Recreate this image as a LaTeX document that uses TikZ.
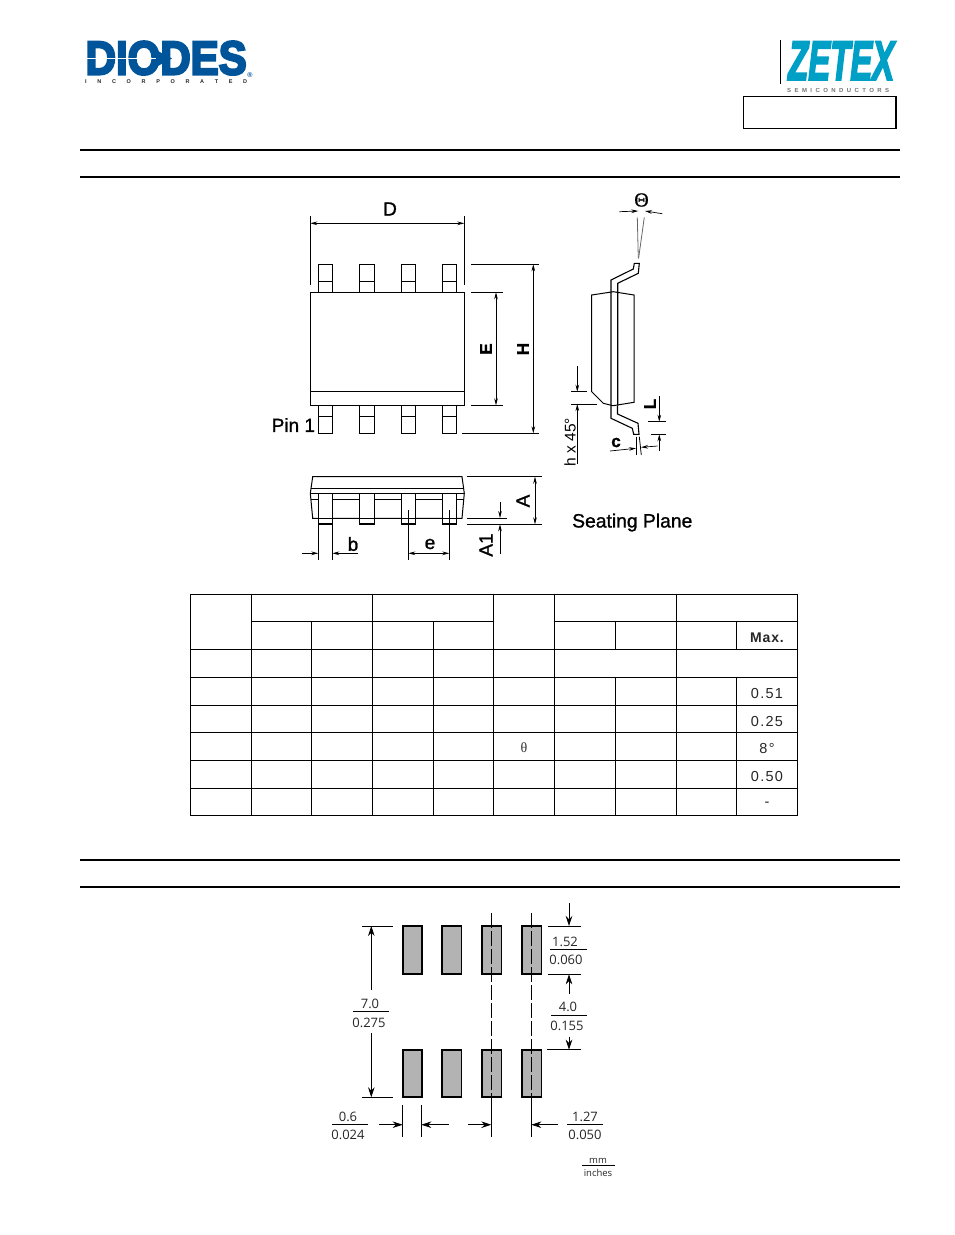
\documentclass[tikz,border=0pt]{standalone}
\usepackage{fontspec}
\setmainfont{Liberation Sans}
\newfontfamily\lblfont[FakeBold=1.2]{Liberation Sans}
\newfontfamily\heavyfont[FakeBold=1.6]{Liberation Sans Bold}
\newfontfamily\logofont[FakeBold=5]{Liberation Sans Bold}
\newfontfamily\zetfont[FakeBold=4]{Liberation Sans Bold Italic}
\newfontfamily\tabfont[LetterSpace=9]{Liberation Sans}
\newfontfamily\tabbold[LetterSpace=6]{Liberation Sans Bold}
\newfontfamily\serfont{Liberation Serif}
\newfontfamily\serbold[FakeBold=0.6]{Liberation Serif}
\newfontfamily\padfont{Open Sans}
\usetikzlibrary{arrows.meta}
\definecolor{dblue}{HTML}{00549A}
\definecolor{zcyan}{HTML}{00A0C6}
\definecolor{padgray}{HTML}{B3B3B3}
\tikzset{
  thinl/.style={line width=0.8pt,black},
  part/.style={line width=1pt,black,fill=white},
  rule/.style={line width=1.5pt,black},
  tabl/.style={line width=0.8pt,black},
  dimarrow/.style={line width=0.7pt,-{Stealth[length=7pt,width=3.6pt]}},
  dimboth/.style={line width=0.7pt,{Stealth[length=7pt,width=3.6pt]}-{Stealth[length=7pt,width=3.6pt]}},
  padarrow/.style={line width=0.8pt,-{Stealth[length=10pt,width=6.5pt]}},
  padbox/.style={line width=1.8pt,black,fill=padgray},
  cline/.style={line width=0.7pt,dash pattern=on 15pt off 3pt},
  lbl/.style={inner sep=0pt,font=\lblfont\fontsize{19}{19}\selectfont},
  tabt/.style={inner sep=0pt,font=\tabfont\fontsize{14.5}{14.5}\selectfont,text=black!85},
  padt/.style={inner sep=0pt,yshift=-1pt,font=\padfont\fontsize{13}{13}\selectfont,text=black!85},
}
\begin{document}
\begin{tikzpicture}[x=1pt,y=-1pt]
\useasboundingbox (0,0) rectangle (954,1235);
% logos
\node[anchor=south west,inner sep=0pt,text=dblue] (diodes) at (85.5,75) {\resizebox{161pt}{33pt}{\logofont DIODES}};
\draw[white,line width=1.4pt] (85,58.5) -- (158,58.5);
\fill[dblue] (156,50) -- (172,58.5) -- (156,67) -- cycle;
\node[anchor=north west,inner sep=0pt,text=black!85] (inc) at (85,79) {\makebox[162pt][s]{\fontsize{5.5}{5.5}\selectfont\bfseries I\hfill N\hfill C\hfill O\hfill R\hfill P\hfill O\hfill R\hfill A\hfill T\hfill E\hfill D}};
\node[inner sep=0pt,text=dblue] (reg) at (250,75) {\fontsize{7}{7}\selectfont\bfseries ®};
\draw[line width=0.9pt] (780.5,40) -- (780.5,84);
\node[anchor=south west,inner sep=0pt,text=zcyan] (zetex) at (788,80) {\resizebox{106pt}{38pt}{\zetfont ZETEX}};
\begin{scope}
\clip (780,88) rectangle (900,91);
\node[anchor=north west,inner sep=0pt,text=black!55] (semi) at (787,88.5) {\makebox[102pt][s]{\fontsize{6}{6}\selectfont\bfseries S\hfill E\hfill M\hfill I\hfill C\hfill O\hfill N\hfill D\hfill U\hfill C\hfill T\hfill O\hfill R\hfill S}};
\end{scope}
\draw[line width=1.2pt] (743.3,96.7) rectangle (896,128.3);
% section rules
\draw[rule] (80,150) -- (900,150);
\draw[rule] (80,177) -- (900,177);
\draw[rule] (80,860) -- (900,860);
\draw[rule] (80,887) -- (900,887);
% top view
\foreach \a/\b/\w in {318.3/332.3/1.0,359.7/374.3/1.4,401.3/415.3/1.2,442.3/456.3/1.0}{
  \draw[line width=\w pt] (\a,292.3) -- (\a,264.3) -- (\b,264.3) -- (\b,292.3);
  \draw[thinl] (\a,281) -- (\b,281);
  \draw[line width=\w pt] (\a,405.3) -- (\a,433.3) -- (\b,433.3) -- (\b,405.3);
  \draw[thinl] (\a,416.7) -- (\b,416.7);
}
\draw[part] (310.3,292.3) rectangle (464.3,405.3);
\draw[thinl] (310.3,391.3) -- (464.3,391.3);
\draw[thinl] (310.3,216) -- (310.3,285);
\draw[thinl] (464.3,216) -- (464.3,285);
\draw[dimboth] (310.3,223.3) -- (464.3,223.3);
\node[lbl] (Dl) at (390,209) {D};
\draw[thinl] (471.3,264.3) -- (539.3,264.3);
\draw[thinl] (462,433.3) -- (539.3,433.3);
\draw[dimboth] (533.3,264.3) -- (533.3,433.3);
\draw[thinl] (471.3,292.3) -- (502.7,292.3);
\draw[thinl] (471.3,405.3) -- (502.7,405.3);
\draw[dimboth] (496,292.3) -- (496,405.3);
\node[lbl,rotate=90,font=\heavyfont\fontsize{17}{17}\selectfont] (El) at (486,349) {E};
\node[lbl,rotate=90,font=\heavyfont\fontsize{17}{17}\selectfont] (Hl) at (523,349) {H};
\node[lbl,anchor=west] (pin) at (271.5,425) {Pin 1};
% side view
\draw[part] (591.7,295) -- (613.3,291.7) -- (634,295) -- (634,402.3) -- (613,405.7) -- (603.3,403.3) -- (591.7,391.7) -- cycle;
\draw[line width=1.1pt] (611,405.5) -- (611,280) -- (633.3,269) -- (634.3,263.3) -- (639.3,263.3) -- (638.3,273.3) -- (617.7,283.3) -- (617.7,405.5);
\draw[line width=1.1pt] (611,405.5) -- (611,418.3) -- (632.3,428.3) -- (633.7,434.3) -- (639,434.3) -- (638,423.3) -- (617.5,414) -- (617.5,405.5);
\draw[line width=0.8pt,black!60] (638.3,258.3) -- (637.3,217.3);
\draw[line width=0.8pt,black!60] (638.6,258.3) -- (644.3,217.3);
\draw[dimarrow] (619.3,211.7) -- (638.3,211);
\draw[dimarrow] (662.3,213.7) -- (645,211);
\node[inner sep=0pt,font=\serbold\fontsize{20}{20}\selectfont] (Thl) at (641.5,200) {Θ};
\node[inner sep=0pt,rotate=90,font=\fontsize{15.5}{15.5}\selectfont] (hl) at (570,442) {h x 45°};
\draw[dimarrow] (577.3,366) -- (577.3,391.7);
\draw[thinl] (571,391.7) -- (586.7,391.7);
\draw[thinl] (571,404) -- (596.7,404);
\draw[dimarrow] (577.3,464) -- (577.3,404);
\node[lbl,rotate=90,font=\heavyfont\fontsize{17}{17}\selectfont] (Ll) at (650,404) {L};
\draw[dimarrow] (659.3,396) -- (659.3,421.7);
\draw[thinl] (648,421.7) -- (665.7,421.7);
\draw[thinl] (651,434.3) -- (666,434.3);
\draw[dimarrow] (659.3,450.7) -- (659.3,434.3);
\node[lbl,font=\heavyfont\fontsize{17}{17}\selectfont] (cl) at (616,442.5) {c};
\draw[thinl] (636,436.7) -- (636,455);
\draw[thinl] (639.3,436.7) -- (641.3,455);
\draw[dimarrow] (610,451) -- (636,448.3);
\draw[dimarrow] (657.7,446) -- (641,447.3);
% front view
\draw[part] (312.7,476.7) -- (462,476.7) -- (464.3,493.3) -- (462,518.3) -- (312.7,518.3) -- (310.3,493.3) -- cycle;
\draw[line width=1pt] (310.7,488.3) -- (464.3,488.3);
\draw[thinl] (310.3,493.3) -- (464.3,493.3);
\draw[thinl] (311,499.3) -- (464,499.3);
\foreach \a/\b/\w in {318.3/332.3/1.0,359.7/374.3/1.4,401.3/415.3/1.2,442.3/456.3/1.0}{
  \draw[line width=\w pt,fill=white] (\a,493.3) -- (\a,524.3) -- (\b,524.3) -- (\b,493.3) -- cycle;
  \draw[line width=2pt] (\a,523.5) -- (\b,523.5);
  \draw[thinl] (\a,518.3) -- (\b,518.3);
}
\draw[thinl] (466.7,476.7) -- (541.7,476.7);
\draw[thinl] (466.7,524.3) -- (541.7,524.3);
\draw[dimboth] (535,476.7) -- (535,524.3);
\node[lbl,rotate=90] (Al) at (523,501) {A};
\draw[thinl] (466.7,518) -- (506.7,518);
\draw[dimarrow] (500,501.7) -- (500,518);
\draw[dimarrow] (500,554.3) -- (500,524.3);
\node[lbl,rotate=90] (Aol) at (486,545) {A1};
\draw[thinl] (318.3,524.3) -- (318.3,560);
\draw[thinl] (332.3,524.3) -- (332.3,560);
\draw[dimarrow] (301.7,553.3) -- (318.3,553.3);
\draw[dimarrow] (358.3,553.3) -- (332.3,553.3);
\node[lbl] (bl) at (353,544) {b};
\draw[thinl] (408.3,510) -- (408.3,560);
\draw[thinl] (449.3,510) -- (449.3,560);
\draw[dimboth] (408.3,553.3) -- (449.3,553.3);
\node[lbl] (el) at (430,544) {e};
\node[lbl,anchor=west,font=\lblfont\fontsize{19.3}{19.3}\selectfont] (seat) at (572,522.5) {Seating Plane};
% table
\draw[tabl] (190,594) rectangle (797.5,815.5);
\foreach \y in {649,677,705,732.5,760,788}{\draw[tabl] (190,\y) -- (797.5,\y);}
\draw[tabl] (251,621.5) -- (493,621.5);
\draw[tabl] (554,621.5) -- (797.5,621.5);
\foreach \x in {251,372,493,554,676}{\draw[tabl] (\x,594) -- (\x,815.5);}
\foreach \x in {311,433}{\draw[tabl] (\x,622) -- (\x,815.5);}
\foreach \x in {615,736.5}{
  \draw[tabl] (\x,622) -- (\x,649);
  \draw[tabl] (\x,677) -- (\x,815.5);
}
\node[tabt,font=\tabbold\fontsize{14}{14}\selectfont] (maxt) at (767,638) {Max.};
\node[tabt] (t1) at (767,693) {0.51};
\node[tabt] (t2) at (767,721) {0.25};
\node[tabt] (t3) at (767,748) {8°};
\node[tabt] (t4) at (767,776) {0.50};
\node[tabt] (t5) at (767,804) {-};
\node[inner sep=0pt,font=\serfont\fontsize{14}{14}\selectfont,text=black!80] (tth) at (524,748) {θ};
% land pattern
\foreach \a/\b in {402.7/421.7,441.7/461.5,481.7/501.5,521.7/541.5}{
  \draw[padbox] (\a,925.7) rectangle (\b,974.3);
  \draw[padbox] (\a,1049.7) rectangle (\b,1097.3);
}
\draw[cline] (491.3,913) -- (491.3,1097);
\draw[cline] (531.3,913) -- (531.3,1097);
\draw[thinl] (491.3,1097) -- (491.3,1137);
\draw[thinl] (531.3,1097) -- (531.3,1137);
\draw[thinl] (362.3,926) -- (392.7,926);
\draw[thinl] (361.7,1097.3) -- (392.7,1097.3);
\draw[padarrow] (371.3,990) -- (371.3,926);
\draw[padarrow] (371.3,1033) -- (371.3,1097.3);
\node[padt] (a1) at (370,1003) {7.0};
\draw[thinl] (353,1011.3) -- (389,1011.3);
\node[padt] (a2) at (369,1022) {0.275};
\draw[padarrow] (569,903) -- (569,926);
\draw[thinl] (548,926) -- (580.7,926);
\draw[thinl] (548,974.3) -- (580.7,974.3);
\node[padt] (b1) at (565,941) {1.52};
\draw[thinl] (550,949) -- (586.7,949);
\node[padt] (b2) at (566,959) {0.060};
\draw[padarrow] (569,994) -- (569,974.3);
\node[padt] (c1) at (568,1006) {4.0};
\draw[thinl] (551,1015.3) -- (587,1015.3);
\node[padt] (c2) at (567,1025) {0.155};
\draw[padarrow] (569,1036.7) -- (569,1049.7);
\draw[thinl] (547.3,1049.7) -- (580.7,1049.7);
\draw[thinl] (402.7,1105) -- (402.7,1137.3);
\draw[thinl] (421.3,1105) -- (421.3,1137.3);
\draw[padarrow] (379,1124.7) -- (402.7,1124.7);
\draw[padarrow] (448.7,1124.7) -- (421.3,1124.7);
\draw[padarrow] (468,1124.7) -- (491.3,1124.7);
\draw[padarrow] (558,1124.7) -- (531.3,1124.7);
\node[padt] (d1) at (348,1116) {0.6};
\draw[thinl] (332,1124.3) -- (368,1124.3);
\node[padt] (d2) at (348,1134) {0.024};
\node[padt] (e1) at (585,1116) {1.27};
\draw[thinl] (567,1124.3) -- (603,1124.3);
\node[padt] (e2) at (585,1134) {0.050};
\node[padt,font=\padfont\fontsize{9.5}{9.5}\selectfont] (m1) at (598,1160) {mm};
\draw[line width=0.6pt] (582.3,1165.3) -- (615,1165.3);
\node[padt,font=\padfont\fontsize{9.5}{9.5}\selectfont] (m2) at (598,1172) {inches};
\end{tikzpicture}
\end{document}
